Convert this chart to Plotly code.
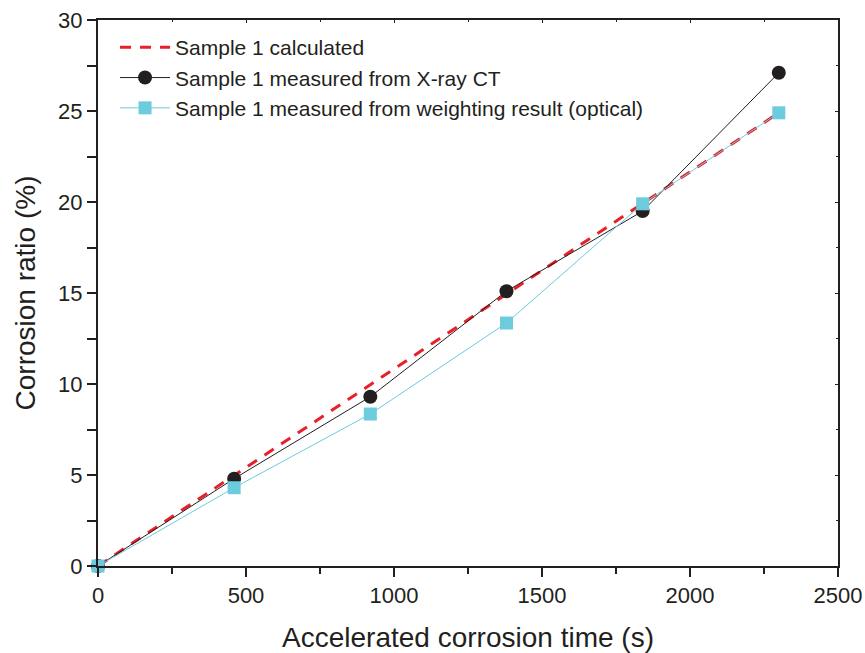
import plotly.graph_objects as go

time_s = [0, 460, 920, 1380, 1840, 2300]
calculated = [0, 4.98, 9.96, 14.94, 19.92, 24.9]
xray_ct = [0, 4.8, 9.3, 15.1, 19.5, 27.1]
optical = [0, 4.3, 8.35, 13.35, 19.9, 24.9]

names = ["Sample 1 calculated",
         "Sample 1 measured from X-ray CT",
         "Sample 1 measured from weighting result (optical)"]

FONT = "Liberation Sans, Arial, sans-serif"
INK = "#231f20"

fig = go.Figure()
fig.add_trace(go.Scatter(x=time_s, y=calculated, mode="lines", name=names[0],
                         line=dict(color="#e8202a", width=3, dash="11px,9px"),
                         cliponaxis=False))
fig.add_trace(go.Scatter(x=time_s, y=xray_ct, mode="lines+markers", name=names[1],
                         line=dict(color=INK, width=1),
                         marker=dict(symbol="circle", size=14, color=INK),
                         cliponaxis=False))
fig.add_trace(go.Scatter(x=time_s, y=optical, mode="lines+markers", name=names[2],
                         line=dict(color="#6ccbdc", width=1),
                         marker=dict(symbol="square", size=13, color="#6ccbdc"),
                         cliponaxis=False))

axis_common = dict(showgrid=False, zeroline=False, showline=True, linecolor=INK, linewidth=2,
                   tickcolor=INK, tickwidth=2, ticklen=9, automargin=False,
                   tickfont=dict(family=FONT, size=22, color=INK))

fig.update_layout(
    width=865, height=653,
    margin=dict(l=98, r=27, t=20, b=87),
    paper_bgcolor="white", plot_bgcolor="white",
    font=dict(family=FONT, color=INK),
    showlegend=True,
    legend=dict(x=0.023, y=0.987, xanchor="left", yanchor="top",
                bgcolor="rgba(0,0,0,0)", font=dict(family=FONT, size=21, color=INK),
                tracegroupgap=0, itemwidth=50),
    xaxis=dict(range=[0, 2500], tickvals=[0, 500, 1000, 1500, 2000, 2500], ticks="outside",
               minor=dict(tickvals=[250, 750, 1250, 1750, 2250], ticklen=6, tickwidth=2,
                          tickcolor=INK, ticks="outside"),
               title=dict(text="Accelerated corrosion time (s)",
                          font=dict(family=FONT, size=28, color=INK), standoff=20),
               **axis_common),
    yaxis=dict(range=[0, 30], tickvals=[0, 5, 10, 15, 20, 25, 30], ticks="outside",
               minor=dict(tickvals=[2.5, 7.5, 12.5, 17.5, 22.5, 27.5], ticklen=9, tickwidth=2,
                          tickcolor=INK, ticks="outside"),
               title=dict(text="Corrosion ratio (%)",
                          font=dict(family=FONT, size=28, color=INK), standoff=14),
               **axis_common),
    xaxis2=dict(range=[0, 2500], overlaying="x", side="top", anchor="y",
                tickvals=[0, 500, 1000, 1500, 2000, 2500], ticks="inside", showticklabels=False,
                minor=dict(tickvals=[250, 750, 1250, 1750, 2250], ticklen=2, tickwidth=1,
                           tickcolor=INK, ticks="inside"),
                showgrid=False, zeroline=False, showline=True, linecolor=INK, linewidth=2,
                tickcolor=INK, tickwidth=1, ticklen=3, automargin=False),
    yaxis2=dict(range=[0, 30], overlaying="y", side="right", anchor="x",
                tickvals=[0, 5, 10, 15, 20, 25, 30], ticks="inside", showticklabels=False,
                minor=dict(tickvals=[2.5, 7.5, 12.5, 17.5, 22.5, 27.5], ticklen=2, tickwidth=1,
                           tickcolor=INK, ticks="inside"),
                showgrid=False, zeroline=False, showline=True, linecolor=INK, linewidth=2,
                tickcolor=INK, tickwidth=1, ticklen=3, automargin=False),
)
# invisible trace to activate the mirrored axes
fig.add_trace(go.Scatter(x=[None], y=[None], xaxis="x2", yaxis="y2", showlegend=False,
                         hoverinfo="skip"))
fig.write_html("out.html")
